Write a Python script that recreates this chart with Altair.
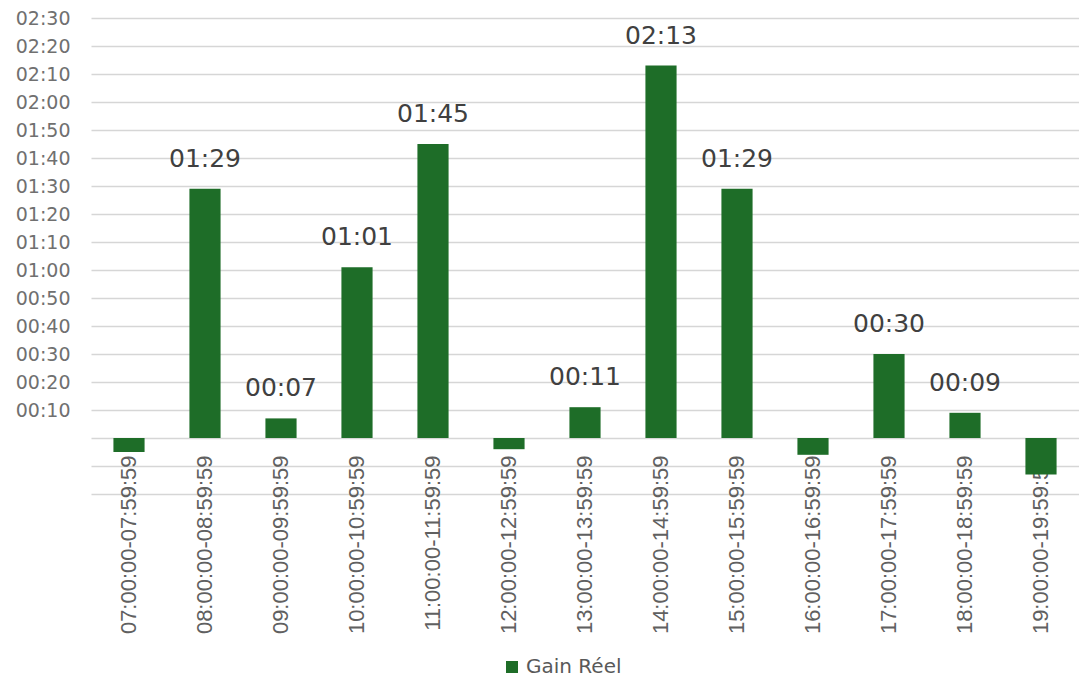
import altair as alt
import pandas as pd

# Hourly slots and the real gain per slot, in minutes
slots = [
    "07:00:00-07:59:59", "08:00:00-08:59:59", "09:00:00-09:59:59",
    "10:00:00-10:59:59", "11:00:00-11:59:59", "12:00:00-12:59:59",
    "13:00:00-13:59:59", "14:00:00-14:59:59", "15:00:00-15:59:59",
    "16:00:00-16:59:59", "17:00:00-17:59:59", "18:00:00-18:59:59",
    "19:00:00-19:59:59",
]
gain_minutes = [-5, 89, 7, 61, 105, -4, 11, 133, 89, -6, 30, 9, -13]
series_name = "Gain Réel"


def hhmm(m):
    return f"{m // 60:02d}:{m % 60:02d}"


df = pd.DataFrame({
    "slot": slots,
    "gain": gain_minutes,
    "serie": [series_name] * len(slots),
    "label": [hhmm(m) if m > 0 else "" for m in gain_minutes],
})

GREEN = "#1e6d28"
PLOT_W, PLOT_H = 988, 476
Y_MIN, Y_MAX = -20, 150
ZERO_Y = PLOT_H * Y_MAX / (Y_MAX - Y_MIN)

x_enc = alt.X(
    "slot:N",
    sort=slots,
    title=None,
    scale=alt.Scale(paddingInner=0.59, paddingOuter=0.295),
    axis=alt.Axis(
        orient="bottom",
        offset=-(PLOT_H - ZERO_Y),
        domain=False,
        ticks=False,
        tickSize=0,
        labelAngle=270,
        labelPadding=17,
        labelFont="Liberation Sans",
        labelFontSize=22,
        labelColor="#606060",
        labelOverlap=False,
        grid=False,
    ),
)

y_enc = alt.Y(
    "gain:Q",
    title=None,
    scale=alt.Scale(domain=[Y_MIN, Y_MAX], nice=False, zero=False),
    axis=alt.Axis(
        values=list(range(Y_MIN, Y_MAX + 1, 10)),
        labelExpr=(
            "datum.value > 0 ? pad(floor(datum.value / 60) + '', 2, '0', 'left')"
            " + ':' + pad((datum.value % 60) + '', 2, '0', 'left') : ''"
        ),
        domain=False,
        ticks=False,
        tickSize=0,
        labelPadding=21,
        labelFont="DejaVu Sans",
        labelFontSize=19,
        labelColor="#707070",
        labelOverlap=False,
        grid=True,
        gridColor="#d6d6d6",
        gridWidth=1.6,
    ),
)

base = alt.Chart(df).encode(x=x_enc, y=y_enc)

bars = base.mark_bar(color=GREEN).encode(
    y2=alt.datum(0),
    color=alt.Color(
        "serie:N",
        scale=alt.Scale(domain=[series_name], range=[GREEN]),
        legend=alt.Legend(
            title=None,
            orient="none",
            legendX=411,
            legendY=639,
            symbolType="square",
            symbolSize=144,
            symbolStrokeWidth=0,
            labelFont="DejaVu Sans",
            labelFontSize=20,
            labelColor="#595959",
            padding=0,
        ),
    ),
)

labels = base.mark_text(
    baseline="alphabetic",
    dy=-22,
    font="DejaVu Sans",
    fontSize=25,
    color="#404040",
).encode(text="label:N")

chart = (
    alt.layer(bars, labels)
    .properties(
        width=PLOT_W,
        height=PLOT_H,
        autosize=alt.AutoSizeParams(type="none"),
        padding={"left": 91, "top": 18, "right": 0, "bottom": 187},
        background="white",
    )
    .configure_view(stroke=None)
)

chart.save("out.html", embed_options={"renderer": "svg", "actions": False})
